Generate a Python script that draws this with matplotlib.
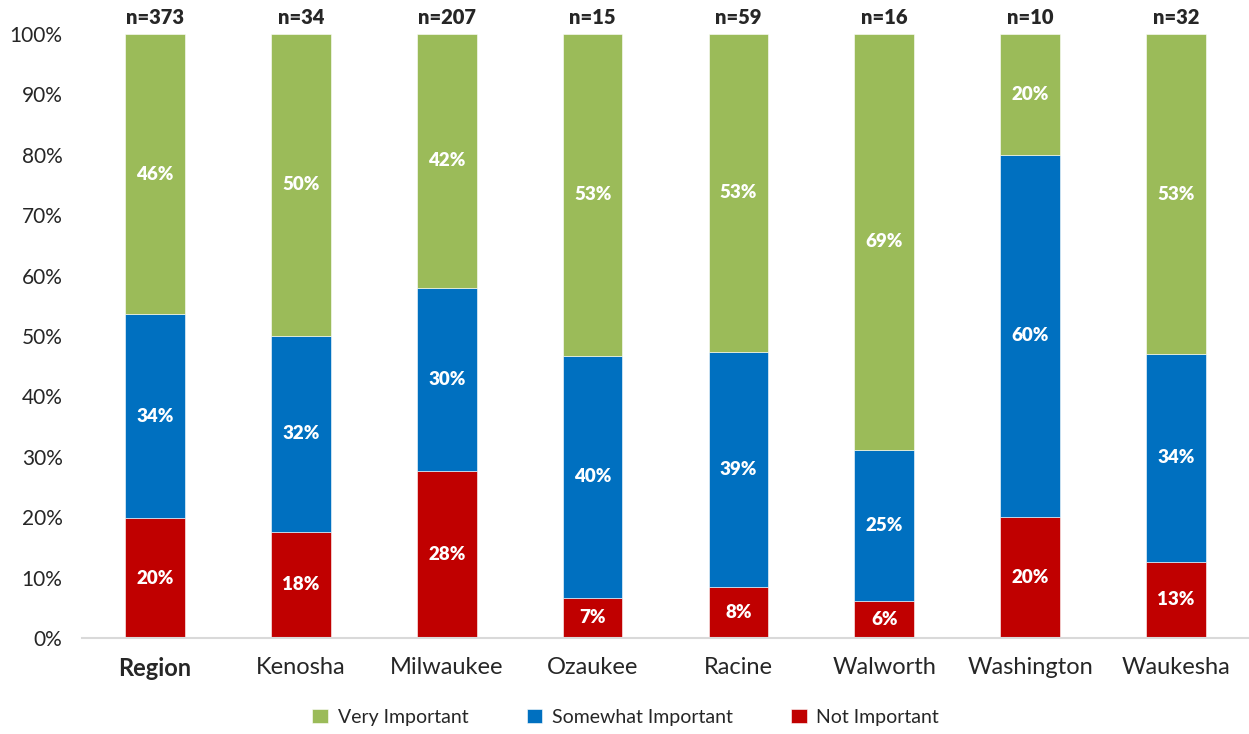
import matplotlib
matplotlib.use("Agg")
import matplotlib.pyplot as plt
import numpy as np

plt.rcParams['font.family'] = ['Lato', 'DejaVu Sans']

# -- data --
counties = ['Region', 'Kenosha', 'Milwaukee', 'Ozaukee', 'Racine', 'Walworth', 'Washington', 'Waukesha']
n_resp = [373, 34, 207, 15, 59, 16, 10, 32]
not_imp = [19.8, 17.6, 27.6, 6.7, 8.4, 6.2, 20.0, 12.6]
somewhat_imp = [33.8, 32.4, 30.4, 40.0, 39.0, 25.0, 60.0, 34.4]
very_imp = [46.4, 50.0, 42.0, 53.3, 52.6, 68.8, 20.0, 53.0]

c_red = '#C00000'
c_blue = '#0070C0'
c_green = '#9BBB59'

fig = plt.figure(figsize=(12.49, 7.34), dpi=100)
ax = fig.add_axes([0.0657, 0.1308, 0.9343, 0.8229])

x = np.arange(len(counties))
w = 0.41
red = np.array(not_imp)
blue = np.array(somewhat_imp)
green = np.array(very_imp)

b1 = ax.bar(x, red, w, color=c_red, edgecolor='white', linewidth=0.4, label='Not Important')
b2 = ax.bar(x, blue, w, bottom=red, color=c_blue, edgecolor='white', linewidth=0.4, label='Somewhat Important')
b3 = ax.bar(x, green, w, bottom=red + blue, color=c_green, edgecolor='white', linewidth=0.4, label='Very Important')

for vals, bottoms in [(red, 0), (blue, red), (green, red + blue)]:
    mids = bottoms + vals / 2
    for xi, v, m in zip(x, vals, mids):
        ax.text(xi, m, f'{v:.0f}%', ha='center', va='center', color='white',
                fontsize=13.5, fontweight='heavy')

for xi, n in zip(x, n_resp):
    ax.text(xi, 102.7, f'n={n}', ha='center', va='center', color='#262626',
            fontsize=14.5, fontweight='heavy', clip_on=False)

ax.set_xlim(-0.5, len(counties) - 0.5)
ax.set_ylim(0, 100)
ax.set_yticks(np.arange(0, 101, 10))
ax.set_yticklabels([f'{t}%' for t in range(0, 101, 10)], fontsize=15, color='#262626')
ax.set_xticks(x)
ax.set_xticklabels(counties, fontsize=17, color='#262626')
ax.get_xticklabels()[0].set_fontweight('bold')
ax.tick_params(axis='both', length=0)
ax.tick_params(axis='x', pad=14)
ax.tick_params(axis='y', pad=14)

for s in ['top', 'right', 'left']:
    ax.spines[s].set_visible(False)
ax.spines['bottom'].set_color('#D9D9D9')
ax.spines['bottom'].set_linewidth(1.5)

ax.legend(handles=[b3, b2, b1], loc='center', bbox_to_anchor=(0.466, -0.131),
          ncol=3, frameon=False, fontsize=14, handlelength=0.8, handleheight=0.8,
          columnspacing=3.0, handletextpad=0.5, labelcolor='#262626')

plt.savefig('out.png', dpi=100)
